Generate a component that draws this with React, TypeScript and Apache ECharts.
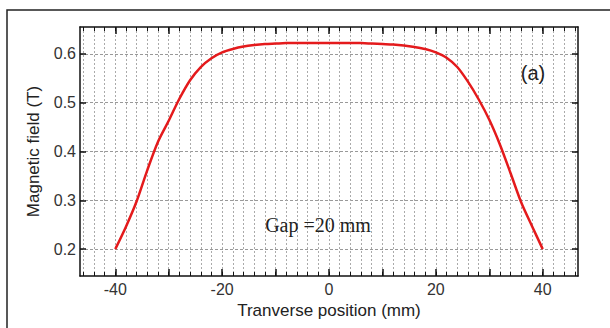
import React, { useEffect, useRef } from "react";
import * as echarts from "echarts";

const positions: number[] = [
  -40, -38, -36, -34, -32, -30, -28, -26, -24, -22, -20, -18, -16, -14, -12, -10, -8, -6, -4, -2, 0,
  2, 4, 6, 8, 10, 12, 14, 16, 18, 20, 22, 24, 26, 28, 30, 32, 34, 36, 38, 40,
];
const field: number[] = [
  0.2, 0.246, 0.298, 0.362, 0.42, 0.463, 0.508, 0.546, 0.573, 0.591, 0.603, 0.61, 0.615, 0.618, 0.62,
  0.621, 0.622, 0.622, 0.622, 0.622, 0.622, 0.622, 0.622, 0.622, 0.621, 0.62, 0.619, 0.617, 0.614, 0.61,
  0.603, 0.592, 0.573, 0.543, 0.507, 0.465, 0.414, 0.355, 0.295, 0.247, 0.2,
];
const xMinorTicks: number[] = [
  -46, -44, -42, -40, -38, -36, -34, -32, -30, -28, -26, -24, -22, -20, -18, -16, -14, -12, -10, -8, -6,
  -4, -2, 0, 2, 4, 6, 8, 10, 12, 14, 16, 18, 20, 22, 24, 26, 28, 30, 32, 34, 36, 38, 40, 42, 44, 46,
];
const xMajorTicks: number[] = [-40, -30, -20, -10, 0, 10, 20, 30, 40];
const xLabels: number[] = [-40, -20, 0, 20, 40];
const yTicks: number[] = [0.2, 0.3, 0.4, 0.5, 0.6];

const X_MIN = -46.6;
const X_MAX = 46.6;
const Y_MIN = 0.145;
const Y_MAX = 0.655;

const FONT = "Arial";
const gridRect = { left: 80, top: 27, right: 32, bottom: 52 };

export default function App() {
  const ref = useRef<HTMLDivElement>(null);
  useEffect(() => {
    if (!ref.current) return;
    const chart = echarts.init(ref.current, null, { renderer: "svg" });
    const axisLine = { show: true, onZero: false, lineStyle: { color: "#111", width: 1.5 } };
    const minorX = (position: "bottom" | "top", main: boolean) => ({
      type: "value",
      gridIndex: 0,
      position,
      min: X_MIN,
      max: X_MAX,
      axisLine,
      axisTick: {
        show: true,
        inside: true,
        length: 4,
        customValues: xMinorTicks,
        lineStyle: { color: "#111", width: 1 },
      },
      splitLine: main
        ? { show: true, lineStyle: { color: "#aaa", type: [2, 2], width: 1 } }
        : { show: false },
      axisLabel: main
        ? {
            show: true,
            customValues: xLabels,
            margin: 5,
            fontSize: 16,
            color: "#333",
            fontFamily: FONT,
          }
        : { show: false },
      name: main ? "Tranverse position (mm)" : "",
      nameLocation: "middle",
      nameGap: 22,
      nameTextStyle: { fontSize: 17, color: "#222", fontFamily: FONT },
    });
    const majorX = (position: "bottom" | "top") => ({
      type: "value",
      gridIndex: 1,
      position,
      min: X_MIN,
      max: X_MAX,
      axisLine: { show: false, onZero: false },
      axisTick: {
        show: true,
        inside: true,
        length: 7,
        customValues: xMajorTicks,
        lineStyle: { color: "#111", width: 1.5 },
      },
      splitLine: { show: false },
      axisLabel: { show: false },
    });
    const yAx = (position: "left" | "right", main: boolean) => ({
      type: "value",
      gridIndex: 0,
      position,
      min: Y_MIN,
      max: Y_MAX,
      axisLine,
      axisTick: {
        show: true,
        inside: true,
        length: 6,
        customValues: yTicks,
        lineStyle: { color: "#111", width: 1.5 },
      },
      splitLine: main
        ? { show: true, lineStyle: { color: "#999", type: [3, 2], width: 1 } }
        : { show: false },
      axisLabel: main
        ? {
            show: true,
            customValues: yTicks,
            margin: 4,
            fontSize: 16,
            color: "#333",
            fontFamily: FONT,
            formatter: (v: number) => v.toFixed(1),
          }
        : { show: false },
      name: main ? "Magnetic field (T)" : "",
      nameLocation: "middle",
      nameGap: 38,
      nameTextStyle: { fontSize: 17, color: "#222", fontFamily: FONT },
    });
    chart.setOption({
      animation: false,
      backgroundColor: "#fff",
      grid: [
        { ...gridRect, containLabel: false },
        { ...gridRect, containLabel: false },
      ],
      xAxis: [minorX("bottom", true), minorX("top", false), majorX("bottom"), majorX("top")],
      yAxis: [
        yAx("left", true),
        yAx("right", false),
        {
          type: "value",
          gridIndex: 1,
          min: Y_MIN,
          max: Y_MAX,
          show: false,
          axisLine: { show: false, onZero: false },
        },
      ],
      graphic: [
        {
          type: "polyline",
          shape: { points: [[7, 328], [7, 10], [610, 10]] },
          style: { stroke: "#222", lineWidth: 1.5, fill: "none" },
          z: 10,
        },
        {
          type: "text",
          x: 533,
          y: 73,
          style: {
            text: "(a)",
            font: "20px Arial, sans-serif",
            fill: "#222",
            align: "center",
            verticalAlign: "middle",
          },
          z: 10,
        },
        {
          type: "text",
          x: 318,
          y: 225,
          style: {
            text: "Gap =20 mm",
            font: "20px 'Times New Roman', serif",
            fill: "#222",
            align: "center",
            verticalAlign: "middle",
          },
          z: 10,
        },
      ],
      series: [
        {
          type: "line",
          xAxisIndex: 0,
          yAxisIndex: 0,
          data: positions.map((x, i) => [x, field[i]]),
          showSymbol: false,
          smooth: 0.3,
          lineStyle: { color: "#e41a1c", width: 2.5 },
          z: 5,
        },
      ],
    });
    return () => chart.dispose();
  }, []);
  return (
    <div
      ref={ref}
      style={{ position: "fixed", left: 0, top: 0, width: 610, height: 328, background: "#fff" }}
    />
  );
}
